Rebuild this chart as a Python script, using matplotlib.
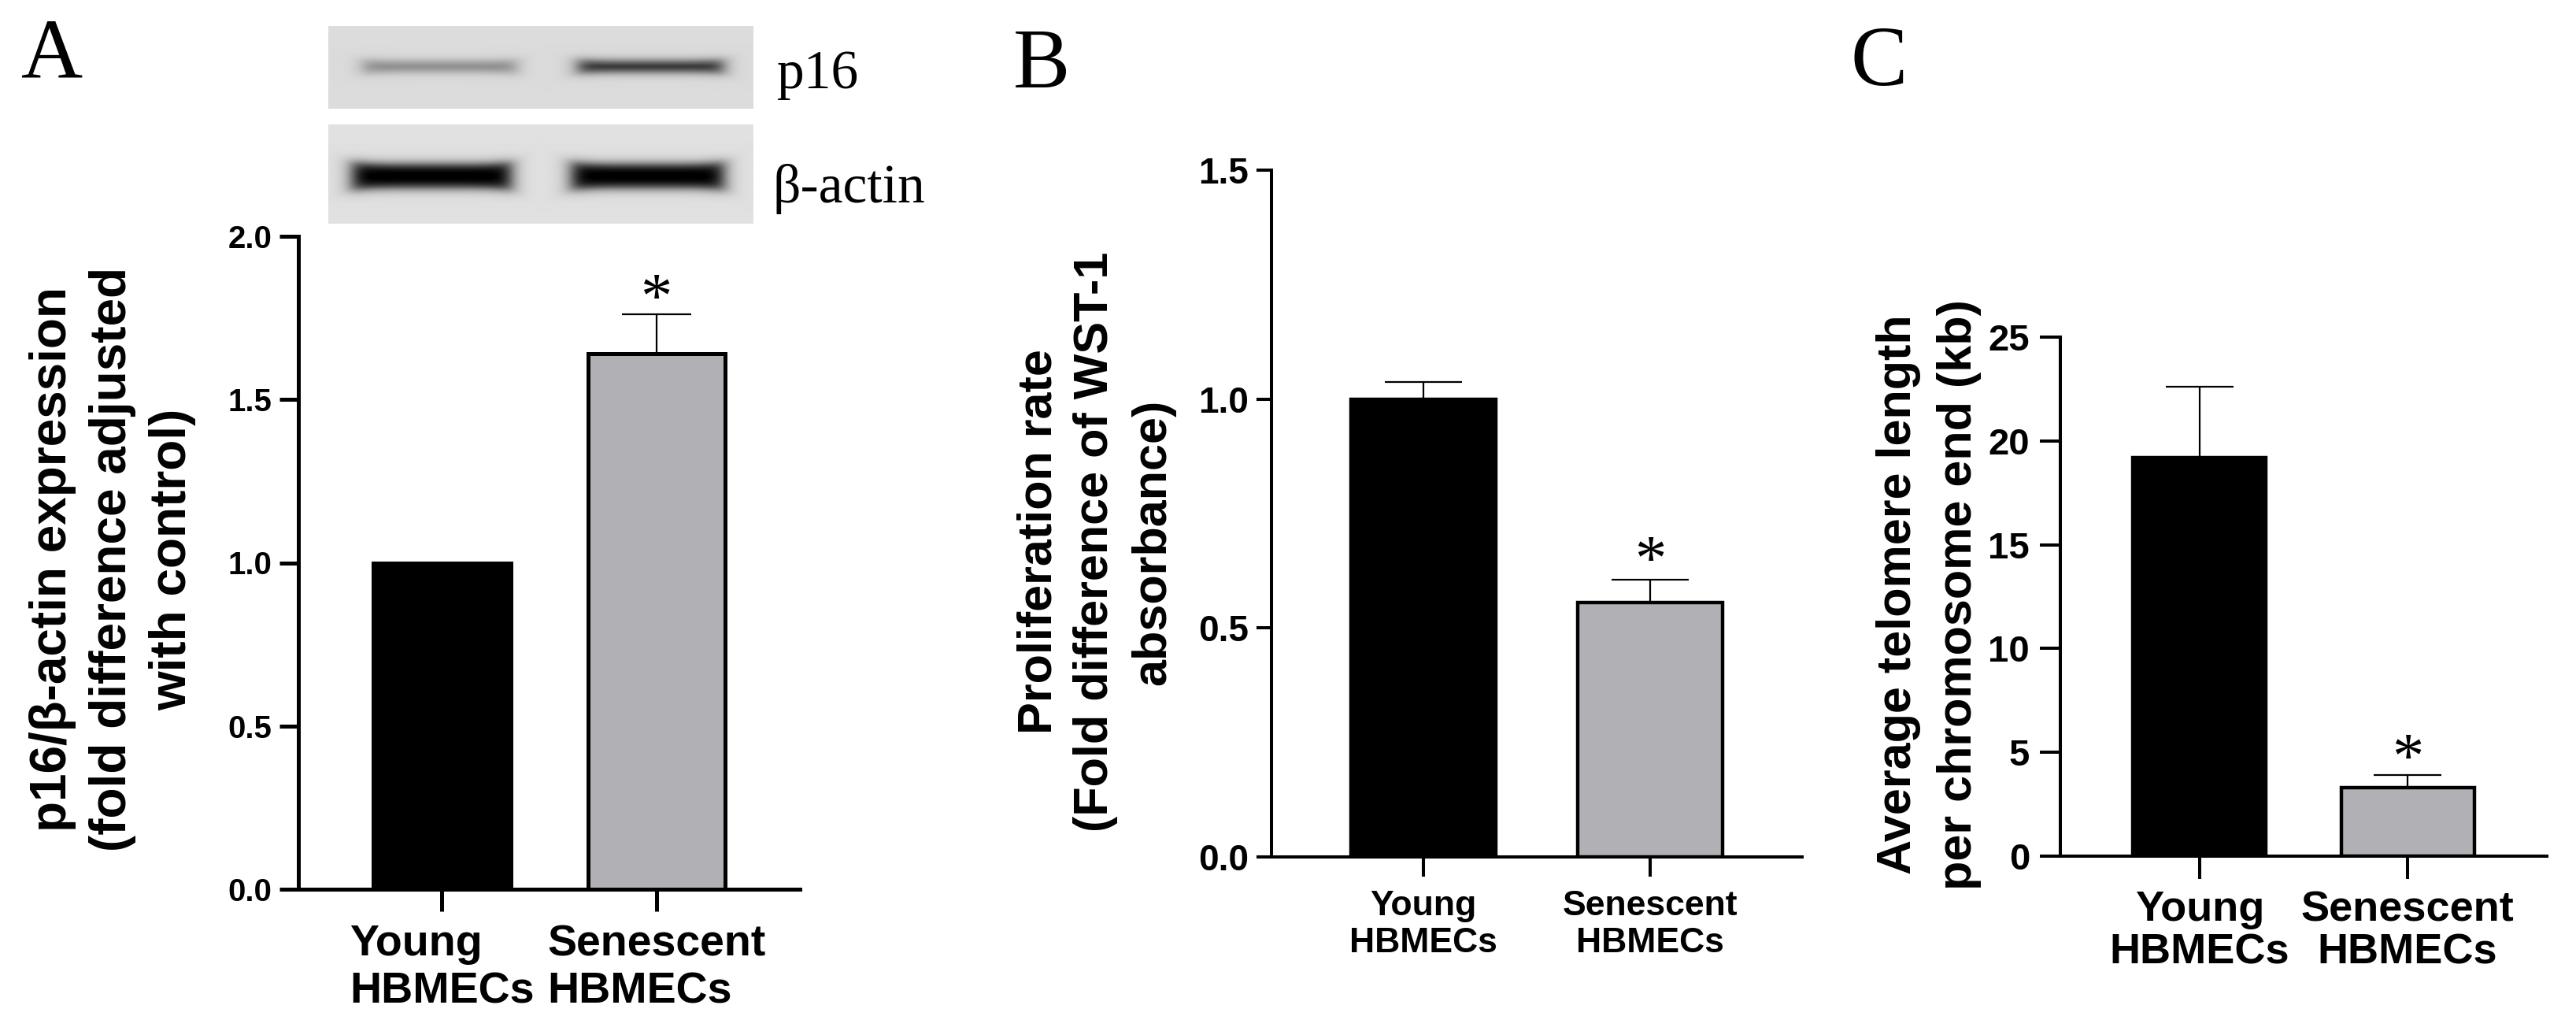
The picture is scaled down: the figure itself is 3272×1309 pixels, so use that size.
import matplotlib

matplotlib.use("Agg")
import matplotlib.pyplot as plt
import numpy as np

W, H = 3273, 1309
DPI = 100

# data
groups = ["Young\nHBMECs", "Senescent\nHBMECs"]
p16_ratio = [1.0, 1.64]
p16_err = [0.0, 0.12]
prolif = [1.0, 0.555]
prolif_err = [0.037, 0.05]
telomere = [19.2, 3.3]
telomere_err = [3.4, 0.6]
significant = [False, True]

# western blot band strength per lane (0 = none, 1 = saturated)
blot_p16 = [0.36, 0.78]
blot_actin = [1.0, 1.0]

BAR_COLORS = ["black", "#b1b0b5"]
SANS = "Liberation Sans"
SERIF = "Liberation Serif"

plt.rcParams["font.family"] = SANS
plt.rcParams["font.weight"] = "bold"


def frac(x0, y0, x1, y1):
    """pixel box (top-left origin) -> figure fraction rect"""
    return [x0 / W, 1 - y1 / H, (x1 - x0) / W, (y1 - y0) / H]


def bar_panel(ax, vals, errs, yticks, fmt, st):
    x = np.arange(len(vals))
    ax.bar(x, vals, width=0.64, color=BAR_COLORS, edgecolor="black",
           linewidth=st["edge"], zorder=2)
    ax.errorbar(x, vals, yerr=[np.zeros(len(vals)), errs], fmt="none",
                ecolor="black", elinewidth=st["elw"], capsize=st["cap"],
                capthick=st["elw"], zorder=3)
    for xi, v, e, s in zip(x, vals, errs, significant):
        if s:
            ax.annotate("*", xy=(xi, v + e), xytext=(0, st["star_off"]),
                        textcoords="offset points", ha="center", va="baseline",
                        fontsize=st["star"], family=SERIF, fontweight="normal")
    ax.set_xlim(-0.67, 1.67)
    ax.set_ylim(yticks[0], yticks[-1])
    ax.set_yticks(yticks)
    ax.set_yticklabels([fmt.format(t) for t in yticks], fontsize=st["ytick"])
    ax.set_xticks(x)
    ax.set_xticklabels(groups, fontsize=st["xtick"], linespacing=st["xls"])
    for lab in ax.get_xticklabels():
        lab.set_multialignment(st["align"])
    for side in ("top", "right"):
        ax.spines[side].set_visible(False)
    for side in ("left", "bottom"):
        ax.spines[side].set_linewidth(st["spine"])
    ax.tick_params(axis="y", length=st["ylen"], width=st["spine"], pad=st["ypad"])
    ax.tick_params(axis="x", length=st["xlen"], width=st["spine"], pad=st["xpad"])
    ax.set_facecolor("none")


def blot(ax, strengths, centers, half_w, center_y, half_h, bg, flare):
    xs = np.linspace(0, 1, 540)
    ys = np.linspace(0, 1, 120)
    X, Y = np.meshgrid(xs, ys)
    dark = np.zeros_like(X)
    for s, c, hw in zip(strengths, centers, half_w):
        px = 1 / (1 + np.exp(-(hw - np.abs(X - c)) / 0.012))
        # bands get a little fatter towards the lane edges
        hh = half_h * (1 + flare * (np.abs(X - c) / hw) ** 6)
        py = 1 / (1 + np.exp(-(hh - np.abs(Y - center_y)) / 0.03))
        dark = np.maximum(dark, s * px * py)
    img = bg * (1 - np.clip(dark * 1.05, 0, 1))
    ax.imshow(img, cmap="gray", vmin=0, vmax=1, extent=(0, 1, 1, 0),
              aspect="auto", interpolation="bilinear")
    ax.set_xlim(0, 1)
    ax.set_ylim(1, 0)
    ax.axis("off")


fig = plt.figure(figsize=(W / DPI, H / DPI), dpi=DPI)

# ---- panel A: blot + bars
ax_b1 = fig.add_axes(frac(417, 33, 957, 138))
blot(ax_b1, blot_p16, [0.262, 0.759], [0.18, 0.17], 0.49, 0.065, 0.86, 0.4)
ax_b2 = fig.add_axes(frac(417, 158, 957, 284))
blot(ax_b2, blot_actin, [0.243, 0.752], [0.186, 0.178], 0.52, 0.115, 0.88, 0.3)
fig.text(987 / W, 1 - 112 / H, "p16", family=SERIF, fontweight="normal",
         fontsize=50, va="baseline", ha="left")
fig.text(982 / W, 1 - 257 / H, "β-actin", family=SERIF, fontweight="normal",
         fontsize=50, va="baseline", ha="left")

axA = fig.add_axes(frac(379, 300, 1016, 1129))
bar_panel(axA, p16_ratio, p16_err, [0.0, 0.5, 1.0, 1.5, 2.0], "{:.1f}",
          dict(edge=3.6, elw=1.6, cap=32, star=58, star_off=-2, ytick=29,
               xtick=40, xls=1.2, align="left", spine=3.6, ylen=17, ypad=7,
               xlen=20, xpad=12))
fig.text(143 / W, 1 - 710 / H,
         "p16/β-actin expression\n(fold difference adjusted\nwith control)",
         rotation=90, ha="center", va="center", fontsize=46, linespacing=1.35,
         multialignment="center")

# ---- panel B
axB = fig.add_axes(frac(1615, 216, 2289, 1088))
bar_panel(axB, prolif, prolif_err, [0.0, 0.5, 1.0, 1.5], "{:.1f}",
          dict(edge=3.2, elw=1.6, cap=35, star=58, star_off=1, ytick=33,
               xtick=32, xls=1.2, align="center", spine=2.9, ylen=14, ypad=7,
               xlen=18, xpad=12))
fig.text(1392 / W, 1 - 688 / H,
         "Proliferation rate\n(Fold difference of WST-1\nabsorbance)",
         rotation=90, ha="center", va="center", fontsize=44, linespacing=1.35,
         multialignment="center")

# ---- panel C
axC = fig.add_axes(frac(2617, 428, 3235, 1087))
bar_panel(axC, telomere, telomere_err, [0, 5, 10, 15, 20, 25], "{:d}",
          dict(edge=3.2, elw=1.6, cap=31, star=58, star_off=-1, ytick=34,
               xtick=39, xls=1.12, align="center", spine=2.9, ylen=19, ypad=9,
               xlen=21, xpad=10))
fig.text(2450 / W, 1 - 755 / H,
         "Average telomere length\nper chromosome end (kb)",
         rotation=90, ha="center", va="center", fontsize=44, linespacing=1.45,
         multialignment="center")

# panel letters
for lx, ly, letter in [(27, 23, "A"), (1287, 36, "B"), (2351, 33, "C")]:
    fig.text(lx / W, 1 - ly / H, letter, family=SERIF, fontweight="normal",
             fontsize=78, ha="left", va="top")

fig.savefig("out.png", dpi=DPI)
